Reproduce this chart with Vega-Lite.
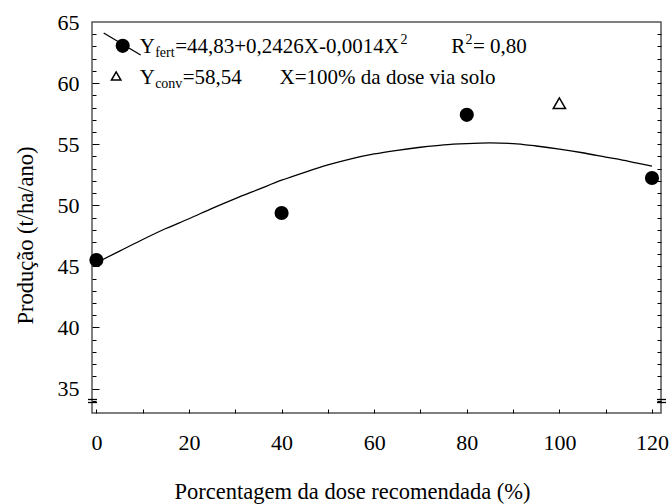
{
  "$schema": "https://vega.github.io/schema/vega-lite/v6.json",
  "width": 569,
  "height": 391,
  "autosize": "none",
  "padding": {"left": 92, "top": 22, "right": 10, "bottom": 91},
  "background": "white",
  "config": {
    "view": {"stroke": "#555555", "strokeWidth": 1.5},
    "font": "Liberation Serif",
    "axis": {"grid": false, "domain": false, "labelFont": "Liberation Serif", "labelFontSize": 22, "labelColor": "black", "titleFont": "Liberation Serif", "titleFontSize": 22.5, "titleFontWeight": "normal", "titleColor": "black", "tickColor": "black", "tickWidth": 1}
  },
  "datasets": {
    "fit": [
      {"dose": 0, "prod": 45.3}, {"dose": 5, "prod": 46.25}, {"dose": 10, "prod": 47.2}, {"dose": 15, "prod": 48.1},
      {"dose": 20, "prod": 48.9}, {"dose": 25, "prod": 49.75}, {"dose": 30, "prod": 50.55}, {"dose": 35, "prod": 51.3},
      {"dose": 40, "prod": 52.05}, {"dose": 45, "prod": 52.7}, {"dose": 50, "prod": 53.3}, {"dose": 55, "prod": 53.8},
      {"dose": 60, "prod": 54.2}, {"dose": 65, "prod": 54.5}, {"dose": 70, "prod": 54.75}, {"dose": 75, "prod": 54.95},
      {"dose": 80, "prod": 55.05}, {"dose": 85, "prod": 55.1}, {"dose": 90, "prod": 55.05}, {"dose": 95, "prod": 54.85},
      {"dose": 100, "prod": 54.6}, {"dose": 105, "prod": 54.3}, {"dose": 110, "prod": 53.95}, {"dose": 115, "prod": 53.6},
      {"dose": 120, "prod": 53.2}
    ],
    "obs": [
      {"dose": 0, "prod": 45.52}, {"dose": 40, "prod": 49.37}, {"dose": 80, "prod": 57.4}, {"dose": 120, "prod": 52.23}
    ],
    "conv": [{"dose": 100, "prod": 58.35}],
    "legline": [{"x": 1.58, "y": 64.1, "x2": 9.56, "y2": 62.3}],
    "legcircle": [{"x": 5.68, "y": 63.05}],
    "legtri": [{"x": 4.27, "y": 60.58}],
    "legtext": [
      {"t": "Y", "x": 9.35, "y": 62.46, "k": "main"},
      {"t": "fert", "x": 12.69, "y": 62.13, "k": "sub"},
      {"t": "=44,83+0,2426X-0,0014X", "x": 17.01, "y": 62.46, "k": "main"},
      {"t": "2", "x": 65.68, "y": 63.2, "k": "sup"},
      {"t": "R", "x": 76.62, "y": 62.46, "k": "main"},
      {"t": "2", "x": 79.71, "y": 63.2, "k": "sup"},
      {"t": "= 0,80", "x": 81.33, "y": 62.46, "k": "main"},
      {"t": "Y", "x": 9.35, "y": 59.93, "k": "main"},
      {"t": "conv", "x": 12.69, "y": 59.6, "k": "sub"},
      {"t": "=58,54", "x": 18.63, "y": 59.93, "k": "main"},
      {"t": "X=100% da dose via solo", "x": 39.56, "y": 59.93, "k": "main"}
    ]
  },
  "layer": [
    {
      "data": {"name": "fit"},
      "mark": {"type": "line", "color": "black", "strokeWidth": 1.3, "interpolate": "monotone"},
      "encoding": {
        "x": {"field": "dose", "type": "quantitative", "scale": {"domain": [-0.95, 121.95], "nice": false, "zero": false},
          "axis": {"orient": "bottom", "values": [0, 20, 40, 60, 80, 100, 120], "ticks": false, "labelPadding": 19, "title": "Porcentagem da dose recomendada (%)", "titlePadding": 27, "titleX": 260}},
        "y": {"field": "prod", "type": "quantitative", "scale": {"domain": [33, 65], "nice": false, "zero": false},
          "axis": {"orient": "left", "values": [35, 40, 45, 50, 55, 60, 65], "ticks": false, "labelPadding": 13, "title": "Produção (t/ha/ano)", "titlePadding": 20, "titleY": 213}}
      }
    },
    {
      "data": {"name": "obs"},
      "mark": {"type": "point", "shape": "circle", "filled": true, "color": "black", "size": 200, "opacity": 1},
      "encoding": {
        "x": {"field": "dose", "type": "quantitative", "scale": {"domain": [-0.95, 121.95], "nice": false, "zero": false},
          "axis": {"orient": "bottom", "values": [0, 10, 20, 30, 40, 50, 60, 70, 80, 90, 100, 110, 120], "labels": false, "tickSize": -4, "title": null}},
        "y": {"field": "prod", "type": "quantitative", "scale": {"domain": [33, 65], "nice": false, "zero": false},
          "axis": {"orient": "left", "values": [34, 35, 36, 37, 38, 39, 40, 41, 42, 43, 44, 45, 46, 47, 48, 49, 50, 51, 52, 53, 54, 55, 56, 57, 58, 59, 60, 61, 62, 63, 64], "labels": false, "tickSize": {"condition": {"test": "datum.value % 5 === 0", "value": -7}, "value": -4}, "title": null}}
      }
    },
    {
      "data": {"name": "conv"},
      "mark": {"type": "point", "shape": "triangle-up", "filled": false, "color": "black", "strokeWidth": 1.5, "size": 150, "opacity": 1},
      "encoding": {
        "x": {"field": "dose", "type": "quantitative", "scale": {"domain": [-0.95, 121.95], "nice": false, "zero": false}, "axis": null},
        "y": {"field": "prod", "type": "quantitative", "scale": {"domain": [33, 65], "nice": false, "zero": false},
          "axis": {"orient": "right", "values": [34, 35, 36, 37, 38, 39, 40, 41, 42, 43, 44, 45, 46, 47, 48, 49, 50, 51, 52, 53, 54, 55, 56, 57, 58, 59, 60, 61, 62, 63, 64], "labels": false, "tickSize": -4, "title": null}}
      }
    },
    {
      "data": {"name": "legline"},
      "mark": {"type": "rule", "color": "black", "strokeWidth": 1.3},
      "encoding": {
        "x": {"field": "x", "type": "quantitative", "scale": {"domain": [-0.95, 121.95], "nice": false, "zero": false}, "axis": null},
        "y": {"field": "y", "type": "quantitative", "scale": {"domain": [33, 65], "nice": false, "zero": false},
          "axis": {"orient": "left", "values": [34.15, 33.9], "labels": false, "tickSize": 9, "offset": -4.5, "tickWidth": 1.3, "title": null}},
        "x2": {"field": "x2"},
        "y2": {"field": "y2"}
      }
    },
    {
      "data": {"name": "legcircle"},
      "mark": {"type": "point", "shape": "circle", "filled": true, "color": "black", "size": 200, "opacity": 1},
      "encoding": {
        "x": {"field": "x", "type": "quantitative", "scale": {"domain": [-0.95, 121.95], "nice": false, "zero": false}, "axis": null},
        "y": {"field": "y", "type": "quantitative", "scale": {"domain": [33, 65], "nice": false, "zero": false},
          "axis": {"orient": "right", "values": [34.15, 33.9], "labels": false, "tickSize": 9, "offset": -4.5, "tickWidth": 1.3, "title": null}}
      }
    },
    {
      "data": {"name": "legtri"},
      "mark": {"type": "point", "shape": "triangle-up", "filled": false, "color": "black", "strokeWidth": 1.5, "size": 90, "opacity": 1},
      "encoding": {
        "x": {"field": "x", "type": "quantitative", "scale": {"domain": [-0.95, 121.95], "nice": false, "zero": false}, "axis": null},
        "y": {"field": "y", "type": "quantitative", "scale": {"domain": [33, 65], "nice": false, "zero": false}, "axis": null}
      }
    },
    {
      "data": {"name": "legtext"},
      "transform": [{"filter": "datum.k === 'main'"}],
      "mark": {"type": "text", "align": "left", "baseline": "alphabetic", "font": "Liberation Serif", "fontSize": 21, "color": "black"},
      "encoding": {
        "x": {"field": "x", "type": "quantitative", "scale": {"domain": [-0.95, 121.95], "nice": false, "zero": false}, "axis": null},
        "y": {"field": "y", "type": "quantitative", "scale": {"domain": [33, 65], "nice": false, "zero": false}, "axis": null},
        "text": {"field": "t", "type": "nominal"}
      }
    },
    {
      "data": {"name": "legtext"},
      "transform": [{"filter": "datum.k !== 'main'"}],
      "mark": {"type": "text", "align": "left", "baseline": "alphabetic", "font": "Liberation Serif", "fontSize": 14, "color": "black"},
      "encoding": {
        "x": {"field": "x", "type": "quantitative", "scale": {"domain": [-0.95, 121.95], "nice": false, "zero": false}, "axis": null},
        "y": {"field": "y", "type": "quantitative", "scale": {"domain": [33, 65], "nice": false, "zero": false}, "axis": null},
        "text": {"field": "t", "type": "nominal"}
      }
    }
  ],
  "resolve": {"axis": {"x": "independent", "y": "independent"}}
}
